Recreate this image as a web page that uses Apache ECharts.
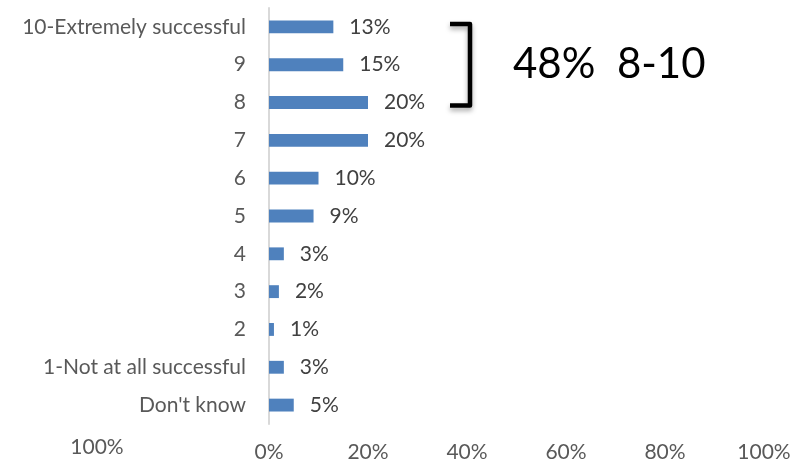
<!DOCTYPE html>
<html>
<head>
<meta charset="utf-8">
<script src="https://cdn.jsdelivr.net/npm/echarts@6/dist/echarts.min.js"></script>
<style>
  html, body { margin: 0; padding: 0; background: #fff; }
  #chart { width: 794px; height: 465px; }
</style>
</head>
<body>
<div id="chart"></div>
<script>
// Survey answers, top to bottom
const categories = [
  "10-Extremely successful", "9", "8", "7", "6", "5", "4", "3", "2",
  "1-Not at all successful", "Don't know"
];
const shares = [13, 15, 20, 20, 10, 9, 3, 2, 1, 3, 5];
const tickValues = [0, 20, 40, 60, 80, 100];
const topBoxLabel = "48%  8-10";
const strayAxisLabel = "100%";

const FONT = "Lato, 'Open Sans', sans-serif";
const LABEL_SIZE = 21;

const chart = echarts.init(document.getElementById("chart"), null, { renderer: "canvas" });

chart.setOption({
  animation: false,
  backgroundColor: "#ffffff",
  grid: { left: 269, right: 30, top: 8, bottom: 41, containLabel: false },
  xAxis: {
    type: "value",
    min: 0, max: 100, interval: 20,
    axisLine: { show: false },
    axisTick: { show: false },
    splitLine: { show: false },
    axisLabel: {
      margin: 18,
      color: "#595959",
      fontFamily: FONT,
      fontSize: LABEL_SIZE,
      formatter: v => tickValues.includes(v) ? v + "%" : ""
    }
  },
  yAxis: {
    type: "category",
    data: categories,
    inverse: true,
    axisLine: { show: true, lineStyle: { color: "#d9d9d9", width: 2 } },
    axisTick: { show: false },
    axisLabel: {
      margin: 23,
      color: "#595959",
      fontFamily: FONT,
      fontSize: LABEL_SIZE
    }
  },
  series: [{
    type: "bar",
    data: shares,
    barCategoryGap: "66%",
    itemStyle: { color: "#4f81bd" },
    label: {
      show: true,
      position: "right",
      distance: 16,
      color: "#404040",
      fontFamily: FONT,
      fontSize: LABEL_SIZE,
      formatter: p => p.value + "%"
    }
  }]
});

// Bracket spanning the top three answers, with its summary text
const yTop = chart.convertToPixel({ yAxisIndex: 0 }, categories[0]);
const yBot = chart.convertToPixel({ yAxisIndex: 0 }, categories[2]);
const bx = 470;
chart.setOption({
  graphic: [
    {
      type: "polyline",
      shape: { points: [[bx - 20, yTop - 3], [bx, yTop - 3], [bx, yBot + 3], [bx - 20, yBot + 3]] },
      style: {
        fill: null, stroke: "#000", lineWidth: 4.5, lineJoin: "round",
        shadowColor: "rgba(0,0,0,0.35)", shadowBlur: 5, shadowOffsetY: 3
      }
    },
    {
      type: "text",
      x: 513, y: (yTop + yBot) / 2,
      style: {
        text: topBoxLabel, fill: "#000", fontFamily: FONT, fontSize: 42,
        verticalAlign: "middle", align: "left"
      }
    },
    {
      type: "text",
      x: 97, y: 447,
      style: {
        text: strayAxisLabel, fill: "#595959", fontFamily: FONT, fontSize: LABEL_SIZE,
        align: "center", verticalAlign: "middle"
      }
    }
  ]
});
</script>
</body>
</html>
